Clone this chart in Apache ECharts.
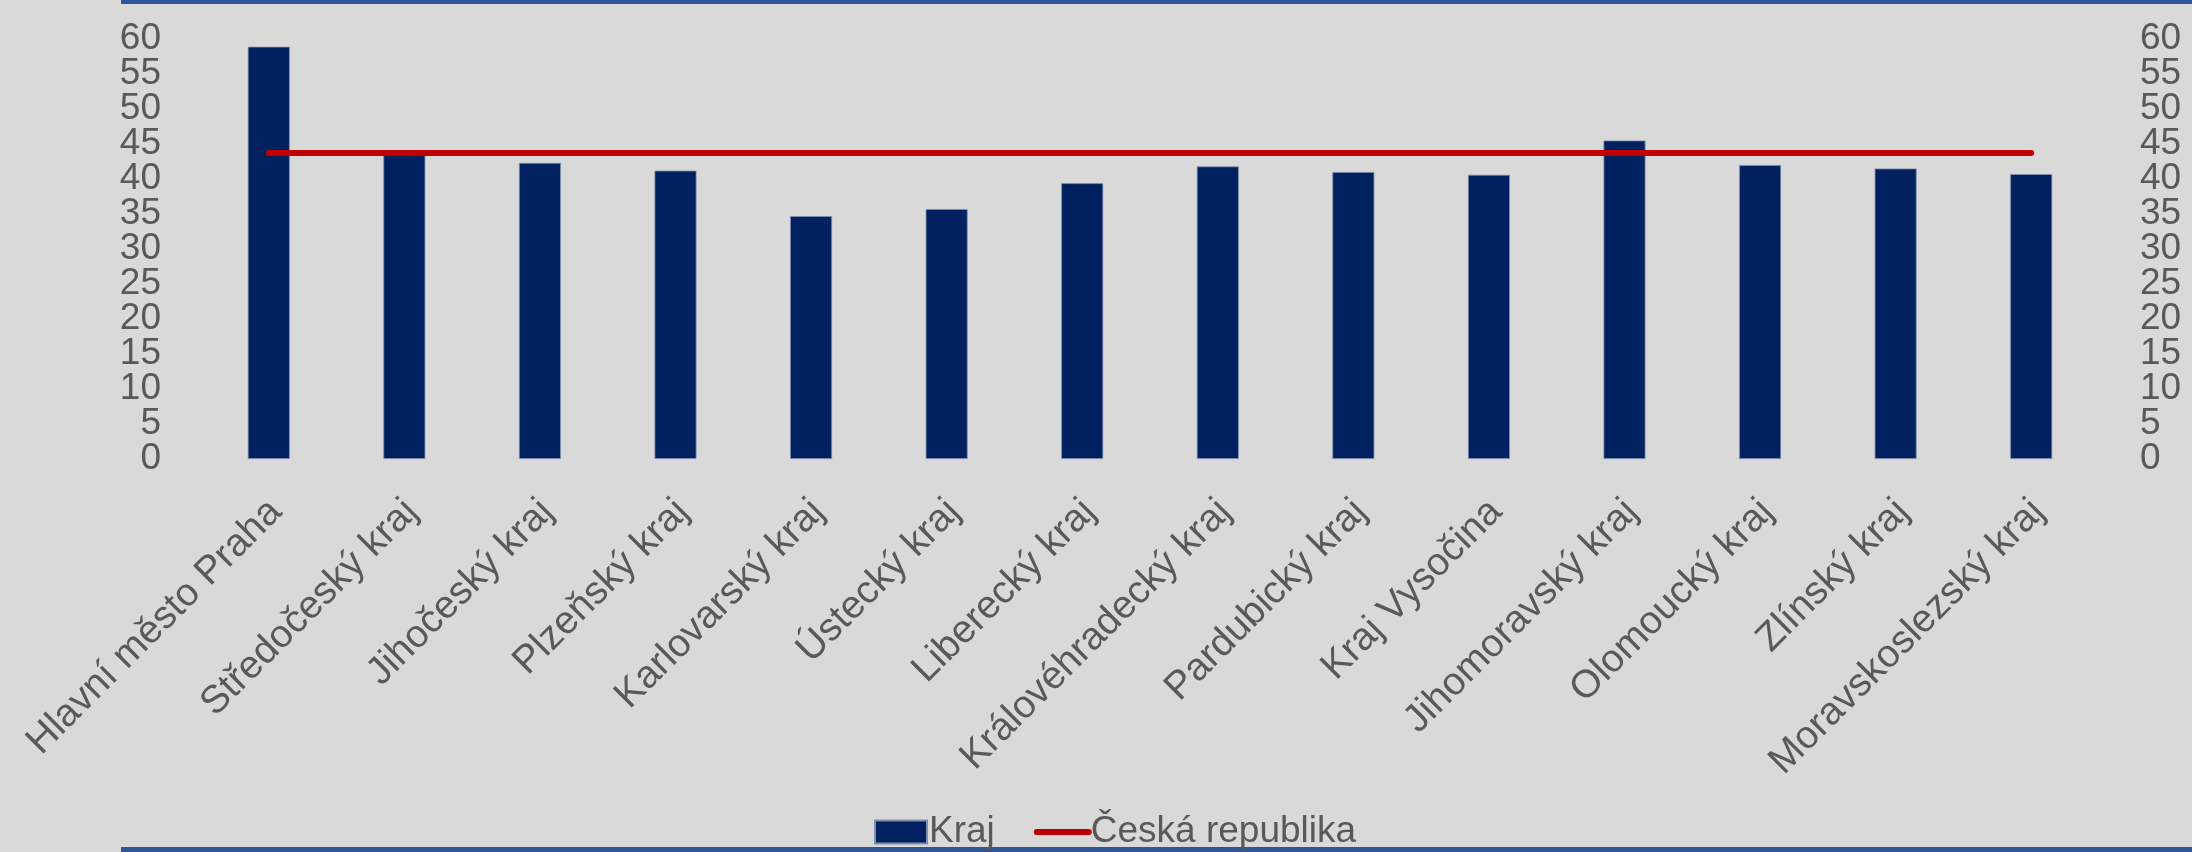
<!DOCTYPE html>
<html>
<head>
<meta charset="utf-8">
<title>Kraje</title>
<script src="https://cdn.jsdelivr.net/npm/echarts@6/dist/echarts.min.js"></script>
<style>
  html, body { margin: 0; padding: 0; background: #d9d9d9; }
  #chart { width: 2192px; height: 852px; }
</style>
</head>
<body>
<div id="chart"></div>
<script>
// data
var kraje = [
  'Hlavní město Praha', 'Středočeský kraj', 'Jihočeský kraj', 'Plzeňský kraj',
  'Karlovarský kraj', 'Ústecký kraj', 'Liberecký kraj', 'Královéhradecký kraj',
  'Pardubický kraj', 'Kraj Vysočina', 'Jihomoravský kraj', 'Olomoucký kraj',
  'Zlínský kraj', 'Moravskoslezský kraj'
]
var krajHodnoty = [58.9, 43.6, 42.3, 41.2, 34.7, 35.7, 39.4, 41.8, 41.0, 40.6, 45.5, 42.0, 41.5, 40.7]
var crHodnota = 43.7
var crHodnoty = kraje.map(function() { return crHodnota })
var osaMin = 0
var osaMax = 60
var osaKrok = 5

var font = "'Liberation Sans', Arial, sans-serif"
var textColor = '#595959'

// osa y - popisky jsou husté a echarts by je schovával,
// proto dvě osy na každé straně: desítky a zbylé pětky
var makeYAxis = function(position, margin, licha) {
  return {
    type: 'value',
    position: position,
    min: osaMin,
    max: osaMax,
    interval: licha ? osaKrok : osaKrok * 2,
    splitLine: { show: false },
    axisLine: { show: false },
    axisTick: { show: false },
    axisLabel: {
      margin: margin,
      color: textColor,
      fontSize: 37,
      fontFamily: font,
      hideOverlap: false,
      formatter: function(value) {
        if (licha) {
          return value % (osaKrok * 2) === 0 ? '' : String(value)
        }
        return String(value)
      }
    }
  }
}

var chart = echarts.init(document.getElementById('chart'))
var option = {
  backgroundColor: '#d9d9d9',
  animation: false,
  textStyle: { fontFamily: font },
  // modré linky nahoře a dole
  graphic: [
    { type: 'rect', shape: { x: 121, y: 0, width: 2071, height: 4 }, style: { fill: '#2f5597' } },
    { type: 'rect', shape: { x: 121, y: 847, width: 2071, height: 5 }, style: { fill: '#2f5597' } }
  ],
  grid: {
    left: 201,
    right: 93,
    top: 39,
    bottom: 393,
    containLabel: false
  },
  legend: {
    left: 869,
    top: 807,
    itemWidth: 52,
    itemHeight: 23,
    itemGap: 39,
    textStyle: { color: textColor, fontSize: 37, fontFamily: font, lineHeight: 40, padding: [0, 0, 0, -3] },
    data: [
      { name: 'Kraj', icon: 'rect' },
      {
        name: 'Česká republika',
        itemStyle: { opacity: 0 },
        lineStyle: { color: '#c00000', width: 6, cap: 'round' }
      }
    ]
  },
  xAxis: {
    type: 'category',
    data: kraje,
    axisLine: { show: false },
    axisTick: { show: false },
    axisLabel: {
      interval: 0,
      rotate: 45,
      margin: 54,
      padding: [0, -10, 0, 0],
      color: textColor,
      fontSize: 39,
      fontFamily: font
    }
  },
  yAxis: [
    makeYAxis('left', 40, false),
    makeYAxis('right', 41, false),
    makeYAxis('left', 40, true),
    makeYAxis('right', 41, true)
  ],
  series: [
    {
      name: 'Kraj',
      type: 'bar',
      barWidth: 42,
      itemStyle: { color: '#002060', borderColor: '#7f8fac', borderWidth: 0.8 },
      data: krajHodnoty
    },
    {
      name: 'Česká republika',
      type: 'line',
      symbol: 'none',
      lineStyle: { color: '#c00000', width: 6, cap: 'round' },
      itemStyle: { color: '#c00000' },
      data: crHodnoty
    }
  ]
}
chart.setOption(option)
</script>
</body>
</html>
